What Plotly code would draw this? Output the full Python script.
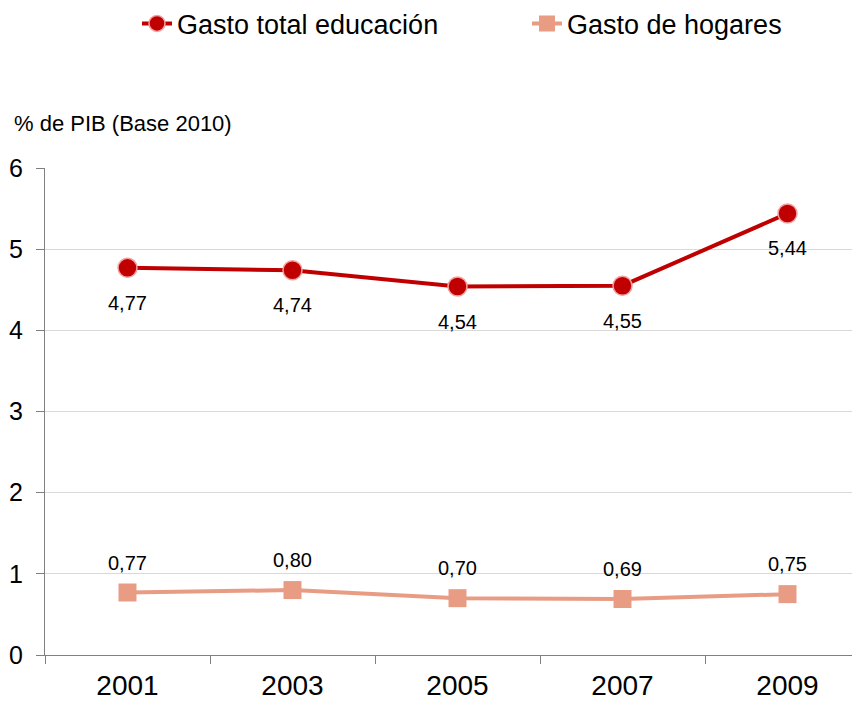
import plotly.graph_objects as go

years = ["2001", "2003", "2005", "2007", "2009"]
gasto_total = [4.77, 4.74, 4.54, 4.55, 5.44]
gasto_hogares = [0.77, 0.80, 0.70, 0.69, 0.75]
labels_total = ["4,77", "4,74", "4,54", "4,55", "5,44"]
labels_hogares = ["0,77", "0,80", "0,70", "0,69", "0,75"]

red = "#C00000"
pink = "#E89C84"

fig = go.Figure()
fig.add_trace(go.Scatter(
    x=years, y=gasto_total, name="Gasto total educación",
    mode="lines+markers",
    line=dict(color=red, width=4),
    marker=dict(symbol="circle", size=19, color=red, line=dict(color="#F4A0A0", width=1.5)),
))
fig.add_trace(go.Scatter(
    x=years, y=gasto_hogares, name="Gasto de hogares",
    mode="lines+markers",
    line=dict(color=pink, width=4),
    marker=dict(symbol="square", size=18, color=pink),
))

annotations = [dict(text="% de PIB (Base 2010)", xref="paper", yref="paper",
                    x=-0.04, y=1.092, xanchor="left", yanchor="middle",
                    showarrow=False, font=dict(size=22))]
for i, (v, t) in enumerate(zip(gasto_total, labels_total)):
    annotations.append(dict(x=i, y=v, xref="x", yref="y", text=t, showarrow=False,
                            yshift=-35, font=dict(size=20)))
for i, (v, t) in enumerate(zip(gasto_hogares, labels_hogares)):
    annotations.append(dict(x=i, y=v, xref="x", yref="y", text=t, showarrow=False,
                            yshift=30, font=dict(size=20)))

fig.update_layout(
    width=872, height=702,
    paper_bgcolor="white", plot_bgcolor="white",
    margin=dict(l=37, r=10, t=160, b=55, autoexpand=False),
    font=dict(family="Liberation Sans, Arial, sans-serif", color="#000000"),
    showlegend=True,
    legend=dict(orientation="h", x=0.1115, xanchor="left", y=1.296, yanchor="middle",
                font=dict(size=27), entrywidth=345, tracegroupgap=0),
    annotations=annotations,
)
fig.update_xaxes(
    type="category", tickson="boundaries", ticks="outside", ticklen=8,
    tickcolor="#808080", showline=True, linecolor="#808080", linewidth=1,
    tickfont=dict(size=28), showgrid=False, range=[-0.5, 4.5],
    ticklabelstandoff=5,
)
fig.update_yaxes(
    range=[0, 6], dtick=1, ticks="outside", ticklen=8, tickcolor="#808080",
    showline=True, linecolor="#808080", linewidth=1,
    showgrid=True, gridcolor="#D9D9D9", gridwidth=1,
    tickfont=dict(size=25), zeroline=False, ticklabelstandoff=8,
)

fig.write_html("out.html")
